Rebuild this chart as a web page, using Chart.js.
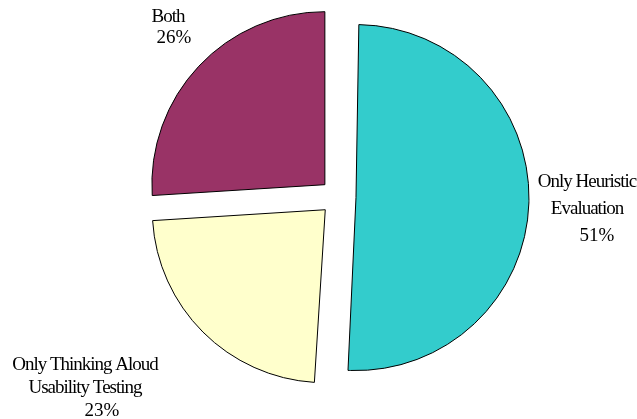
<!DOCTYPE html>
<html>
<head>
<meta charset="utf-8">
<script src="https://cdn.jsdelivr.net/npm/chart.js@4.4.1/dist/chart.umd.min.js"></script>
<style>
  html, body { margin: 0; padding: 0; background: #fff; }
  #wrap { width: 637px; height: 419px; }
</style>
</head>
<body>
<div id="wrap"><canvas id="pieChart"></canvas></div>
<script>
const categories = [["Only Heuristic", "Evaluation"], ["Only Thinking Aloud", "Usability Testing"], ["Both"]];
const shares = [51, 23, 26];
const colors = ["#33cccc", "#ffffcc", "#993366"];

// where each label sits, relative to the pie centre
const labelSpots = [
  { dx: 249, dy: -10, lineGap: 27, pctShift: 10 },
  { dx: -253, dy: 173, lineGap: 23, pctShift: 17 },
  { dx: -170, dy: -175, lineGap: 20.5, pctShift: 6 }
];

const EXPLODE = 72; // chart.js moves a slice by offset / 4

// chart.js grows slices wider than 180deg by the offset, pull them back
const keepRadius = {
  id: "keepRadius",
  beforeDatasetsDraw(chart) {
    const meta = chart.getDatasetMeta(0);
    const r = meta.controller.outerRadius;
    meta.data.forEach(arc => {
      const circ = arc.endAngle - arc.startAngle;
      const fix = 1 - Math.sin(Math.min(Math.PI, circ));
      arc.outerRadius = r - (EXPLODE / 4) * fix;
    });
  }
};

const sliceLabels = {
  id: "sliceLabels",
  afterDatasetsDraw(chart) {
    const ctx = chart.ctx;
    const meta = chart.getDatasetMeta(0);
    const cx = meta.data[0].x, cy = meta.data[0].y;
    ctx.save();
    ctx.fillStyle = "#000";
    ctx.font = '19px "Liberation Serif", "Times New Roman", serif';
    ctx.textAlign = "center";
    ctx.textBaseline = "alphabetic";
    categories.forEach((lines, i) => {
      const spot = labelSpots[i];
      const x = cx + spot.dx;
      let y = cy + spot.dy;
      ctx.letterSpacing = "-1px";
      lines.forEach(line => {
        ctx.fillText(line, x, y);
        y += spot.lineGap;
      });
      ctx.letterSpacing = "0px";
      ctx.fillText(shares[i] + "%", x + spot.pctShift, y);
    });
    ctx.restore();
  }
};

const ctx = document.getElementById("pieChart").getContext("2d");
new Chart(ctx, {
  type: "pie",
  data: {
    labels: categories,
    datasets: [{
      data: shares,
      backgroundColor: colors,
      borderColor: "#000",
      borderWidth: 1,
      borderJoinStyle: "miter",
      offset: EXPLODE
    }]
  },
  options: {
    responsive: true,
    maintainAspectRatio: false,
    animation: false,
    events: [],
    radius: 173,
    layout: { padding: { left: 39, right: 0, top: 0, bottom: 25 } },
    plugins: {
      legend: { display: false },
      tooltip: { enabled: false }
    }
  },
  plugins: [keepRadius, sliceLabels]
});
</script>
</body>
</html>
